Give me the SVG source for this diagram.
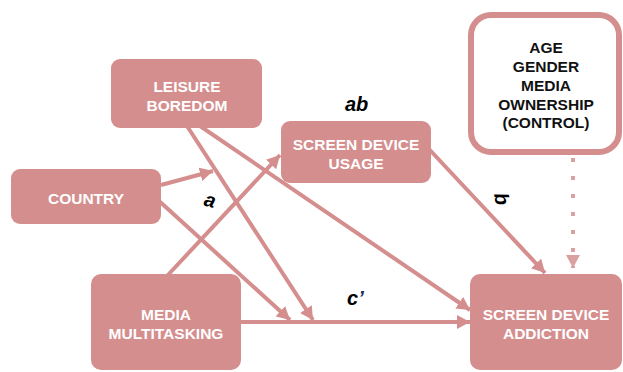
<svg xmlns="http://www.w3.org/2000/svg" width="623" height="372" viewBox="0 0 623 372">
<style>
.box{fill:#d58e8e;}
.t{font-family:"Liberation Sans",Arial,sans-serif;font-weight:bold;font-size:15.5px;fill:#ffffff;text-anchor:middle;}
.ct{font-family:"Liberation Sans",Arial,sans-serif;font-weight:bold;font-size:15.5px;fill:#111111;text-anchor:middle;}
.lbl{font-family:"Liberation Sans",Arial,sans-serif;font-weight:bold;font-style:italic;font-size:20px;fill:#000000;}
.c{fill:none;stroke:#d58e8e;stroke-width:4;}
</style>
<defs>
<marker id="ah" markerUnits="userSpaceOnUse" markerWidth="14" markerHeight="14" refX="13" refY="7" orient="auto">
<path d="M0,0 L13,7 L0,14 z" fill="#d58e8e"/>
</marker>
<marker id="ah2" markerUnits="userSpaceOnUse" markerWidth="14" markerHeight="14" refX="13" refY="7" orient="auto">
<path d="M0,0 L13,7 L0,14 z" fill="#dba0a0"/>
</marker>
</defs>
<rect width="623" height="372" fill="#ffffff"/>
<g id="connectors">
<line class="c" x1="161" y1="185" x2="213" y2="171" marker-end="url(#ah)"/>
<line class="c" x1="187" y1="126" x2="313" y2="320" marker-end="url(#ah)"/>
<line class="c" x1="200" y1="126" x2="470" y2="310" marker-end="url(#ah)"/>
<line class="c" x1="158" y1="200" x2="290" y2="320" marker-end="url(#ah)"/>
<line class="c" x1="167" y1="276" x2="280" y2="155" marker-end="url(#ah)"/>
<line class="c" x1="240" y1="322" x2="470" y2="322" marker-end="url(#ah)"/>
<line class="c" x1="428" y1="148" x2="545" y2="273" marker-end="url(#ah)"/>
<line x1="573" y1="158" x2="573" y2="268" stroke="#dba0a0" stroke-width="4" stroke-dasharray="4 14" marker-end="url(#ah2)"/>
</g>
<g id="leisure">
<rect class="box" x="111" y="59" width="151" height="69" rx="9"/>
<text class="t" x="187" y="92">LEISURE</text>
<text class="t" x="187" y="110.5">BOREDOM</text>
</g>
<g id="country">
<rect class="box" x="11" y="169" width="150" height="55" rx="9"/>
<text class="t" x="86" y="204">COUNTRY</text>
</g>
<g id="media">
<rect class="box" x="91" y="274" width="150" height="96" rx="10"/>
<text class="t" x="166" y="320">MEDIA</text>
<text class="t" x="166" y="338.5">MULTITASKING</text>
</g>
<g id="usage">
<rect class="box" x="281" y="121" width="150" height="62" rx="9"/>
<text class="t" x="356" y="150">SCREEN DEVICE</text>
<text class="t" x="356" y="168.5">USAGE</text>
</g>
<g id="addiction">
<rect class="box" x="470" y="274" width="152" height="96" rx="10"/>
<text class="t" x="546" y="320">SCREEN DEVICE</text>
<text class="t" x="546" y="338.5">ADDICTION</text>
</g>
<g id="control">
<rect x="471" y="15" width="148" height="137" rx="20" fill="#ffffff" stroke="#d58e8e" stroke-width="6"/>
<text class="ct" x="546" y="52.5">AGE</text>
<text class="ct" x="546" y="71.5">GENDER</text>
<text class="ct" x="546" y="90.5">MEDIA</text>
<text class="ct" x="546" y="109.5">OWNERSHIP</text>
<text class="ct" x="546" y="128">(CONTROL)</text>
</g>
<g id="labels">
<text class="lbl" x="345" y="111">ab</text>
<text class="lbl" transform="translate(210,201) rotate(15)" text-anchor="middle" y="6">a</text>
<text class="lbl" transform="translate(501,199) rotate(80)" text-anchor="middle" y="6">b</text>
<text class="lbl" x="347" y="305">c<tspan fill="#1c2a5e">’</tspan></text>
</g>
</svg>
